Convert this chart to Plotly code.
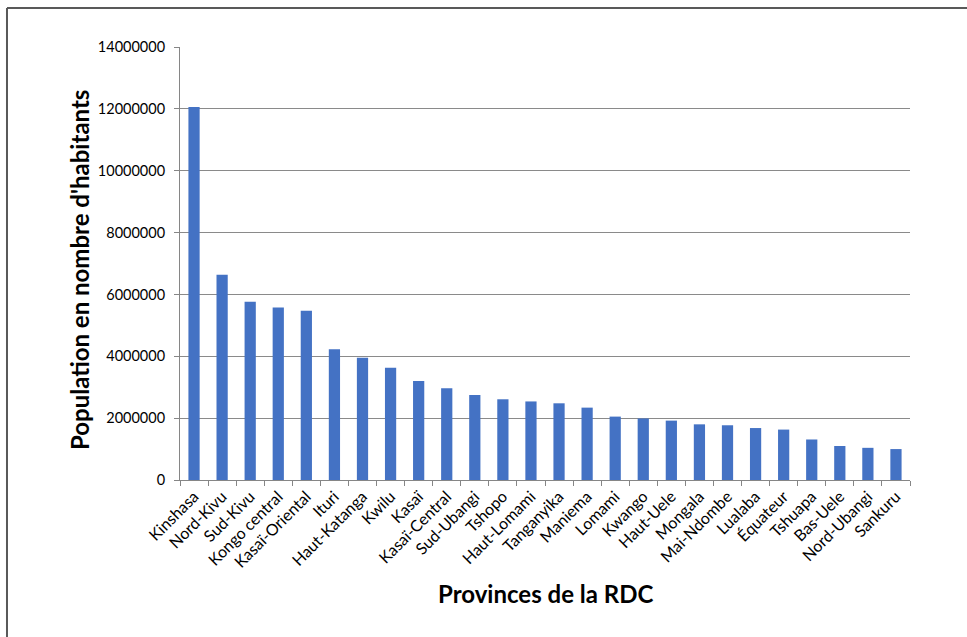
import plotly.graph_objects as go

provinces = ["Kinshasa", "Nord-Kivu", "Sud-Kivu", "Kongo central", "Kasaï-Oriental", "Ituri",
             "Haut-Katanga", "Kwilu", "Kasaï", "Kasaï-Central", "Sud-Ubangi", "Tshopo",
             "Haut-Lomami", "Tanganyika", "Maniema", "Lomami", "Kwango", "Haut-Uele",
             "Mongala", "Mai-Ndombe", "Lualaba", "Équateur", "Tshuapa", "Bas-Uele",
             "Nord-Ubangi", "Sankuru"]
population = [12060000, 6640000, 5760000, 5580000, 5470000, 4230000,
              3950000, 3630000, 3200000, 2970000, 2750000, 2610000,
              2540000, 2480000, 2340000, 2050000, 1990000, 1920000,
              1800000, 1770000, 1680000, 1630000, 1310000, 1100000,
              1040000, 1000000]
y_ticks = [0, 2000000, 4000000, 6000000, 8000000, 10000000, 12000000, 14000000]

FONT = "Lato, Carlito, Calibri, 'Open Sans', sans-serif"

fig = go.Figure(go.Bar(x=provinces, y=population, marker_color="#4472C4",
                       marker_line_width=0))

fig.update_layout(
    width=967, height=637,
    margin=dict(l=180, r=57, t=47, b=157),
    paper_bgcolor="white", plot_bgcolor="white",
    bargap=0.6,
    font=dict(family=FONT, color="black"),
    showlegend=False,
)
fig.update_xaxes(
    type="category", tickangle=-45, tickfont=dict(size=16, family=FONT),
    showline=True, linecolor="#868686", linewidth=1,
    ticks="outside", tickson="boundaries", ticklen=5, tickcolor="#868686",
    showgrid=False,
)
fig.update_yaxes(
    range=[0, 14000000], tickvals=y_ticks, tickformat=".0f",
    tickfont=dict(size=14.5, family=FONT),
    showline=True, linecolor="#868686", linewidth=1,
    ticks="outside", ticklen=5, tickcolor="#868686", ticklabelstandoff=6,
    showgrid=True, gridcolor="#8a8a8a", gridwidth=1, zeroline=False,
)
fig.add_annotation(text="<b>Provinces de la RDC</b>", xref="paper", yref="paper",
                   x=0.5, y=-0.261, xanchor="center", yanchor="middle", showarrow=False,
                   font=dict(size=24, family=FONT, color="black"))
fig.add_annotation(text="<b>Population en nombre d'habitants</b>", xref="paper", yref="paper",
                   x=-0.137, y=0.485, xanchor="center", yanchor="middle", showarrow=False,
                   textangle=-90, font=dict(size=24, family=FONT, color="black"))
# outer chart border (top and left edges visible)
fig.add_shape(type="line", xref="paper", yref="paper", x0=-0.237, x1=1.09, y0=1.09, y1=1.09,
              line=dict(color="#595959", width=2))
fig.add_shape(type="line", xref="paper", yref="paper", x0=-0.237, x1=-0.237, y0=-0.4, y1=1.09,
              line=dict(color="#595959", width=2))

fig.write_html("out.html")
